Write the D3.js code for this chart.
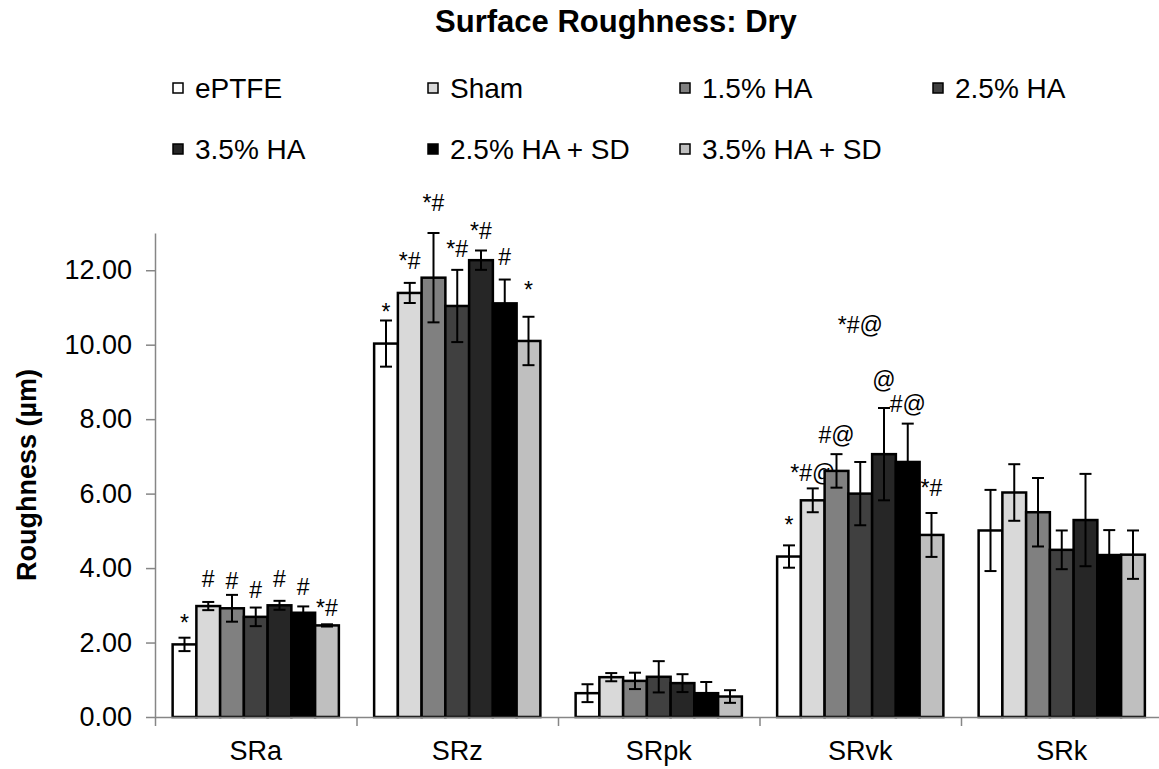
<!DOCTYPE html>
<html>
<head>
<meta charset="utf-8">
<script src="https://cdn.jsdelivr.net/npm/d3@7"></script>
<style>
  body { margin: 0; background: #fff; }
  text { font-family: "Liberation Sans", Arial, sans-serif; }
</style>
</head>
<body>
<svg id="chart"></svg>
<script>
// Categories and series
const categories = ["SRa", "SRz", "SRpk", "SRvk", "SRk"]
const series = ["ePTFE", "Sham", "1.5% HA", "2.5% HA", "3.5% HA", "2.5% HA + SD", "3.5% HA + SD"]
const colors = ["#ffffff", "#d9d9d9", "#808080", "#404040", "#262626", "#000000", "#bfbfbf"]

// Mean values, one row per series (order of categories)
const means = [
  [1.95, 10.03, 0.64, 4.31, 5.01],
  [2.98, 11.39, 1.07, 5.82, 6.03],
  [2.92, 11.80, 0.97, 6.61, 5.50],
  [2.69, 11.04, 1.08, 6.00, 4.49],
  [3.00, 12.27, 0.91, 7.06, 5.29],
  [2.80, 11.11, 0.64, 6.85, 4.35],
  [2.46, 10.10, 0.55, 4.89, 4.36]
]

// Standard deviations
const errors = [
  [0.18, 0.62, 0.24, 0.30, 1.09],
  [0.11, 0.27, 0.11, 0.32, 0.76],
  [0.36, 1.20, 0.22, 0.45, 0.92],
  [0.25, 0.97, 0.42, 0.85, 0.52],
  [0.12, 0.26, 0.24, 1.24, 1.24],
  [0.17, 0.64, 0.30, 1.03, 0.67],
  [0.03, 0.65, 0.17, 0.59, 0.65]
]

// Significance marks and the value at which each one sits
const marks = [
  ["*", "*", "", "*", ""],
  ["#", "*#", "", "*#@", ""],
  ["#", "*#", "", "#@", ""],
  ["#", "*#", "", "*#@", ""],
  ["#", "*#", "", "@", ""],
  ["#", "#", "", "#@", ""],
  ["*#", "*", "", "*#", ""]
]
const markValues = [
  [2.53, 10.87, 0, 5.15, 0],
  [3.71, 12.24, 0, 6.55, 0],
  [3.66, 13.81, 0, 7.58, 0],
  [3.41, 12.56, 0, 10.54, 0],
  [3.72, 13.05, 0, 9.06, 0],
  [3.50, 12.36, 0, 8.42, 0],
  [2.94, 11.48, 0, 6.16, 0]
]

const yTicks = [0, 2, 4, 6, 8, 10, 12]

const width = 1159
const height = 769
const plotLeft = 155
const plotRight = 1162.5
const plotTop = 233
const plotBottom = 717

const svg = d3.select("#chart")
  .attr("width", width)
  .attr("height", height)

// Build a flat table from the arrays
const data = []
categories.forEach((c, ci) => {
  series.forEach((s, si) => {
    data.push({
      category: c,
      series: s,
      color: colors[si],
      value: means[si][ci],
      err: errors[si][ci],
      mark: marks[si][ci],
      markValue: markValues[si][ci]
    })
  })
})

// Scales
const x0 = d3.scaleBand()
  .domain(categories)
  .range([plotLeft, plotRight])
  .paddingInner(0.175)
  .paddingOuter(0.0875)

const x1 = d3.scaleBand()
  .domain(series)
  .range([0, x0.bandwidth()])

const y = d3.scaleLinear()
  .domain([0, 13])
  .range([plotBottom, plotTop])

// Y axis
svg.append("g")
  .attr("transform", `translate(${plotLeft}, 0)`)
  .call(d3.axisLeft(y)
    .tickValues(yTicks)
    .tickFormat(d3.format(".2f"))
    .tickSizeOuter(0)
    .tickSizeInner(9)
    .tickPadding(14))
  .call(g => g.select(".domain").attr("stroke", "#868686").attr("stroke-width", 1.5))
  .call(g => g.selectAll(".tick line").attr("stroke", "#868686").attr("stroke-width", 1.5))
  .call(g => g.selectAll(".tick text")
    .attr("font-family", "Liberation Sans, Arial, sans-serif")
    .attr("font-size", "27px")
    .attr("fill", "#000"))

// Y axis title
svg.append("text")
  .attr("transform", `translate(36, ${(plotTop + plotBottom) / 2}) rotate(-90)`)
  .attr("text-anchor", "middle")
  .attr("font-size", "27px")
  .attr("font-weight", "bold")
  .text("Roughness (µm)")

// Bars
const groups = svg.append("g")
  .selectAll("g")
  .data(categories)
  .join("g")
  .attr("transform", d => `translate(${x0(d)}, 0)`)

const cells = groups.selectAll("g")
  .data(c => data.filter(d => d.category === c))
  .join("g")

cells.append("rect")
  .attr("x", d => x1(d.series))
  .attr("y", d => y(d.value))
  .attr("width", x1.bandwidth())
  .attr("height", d => y(0) - y(d.value))
  .attr("fill", d => d.color)
  .attr("stroke", "#000")
  .attr("stroke-width", 2.5)

// Error bars
const cap = 6
const errG = cells.append("g")
  .attr("stroke", "#000")
  .attr("stroke-width", 2)
errG.append("line")
  .attr("x1", d => x1(d.series) + x1.bandwidth() / 2)
  .attr("x2", d => x1(d.series) + x1.bandwidth() / 2)
  .attr("y1", d => y(d.value + d.err))
  .attr("y2", d => y(d.value - d.err))
errG.append("line")
  .attr("x1", d => x1(d.series) + x1.bandwidth() / 2 - cap)
  .attr("x2", d => x1(d.series) + x1.bandwidth() / 2 + cap)
  .attr("y1", d => y(d.value + d.err))
  .attr("y2", d => y(d.value + d.err))
errG.append("line")
  .attr("x1", d => x1(d.series) + x1.bandwidth() / 2 - cap)
  .attr("x2", d => x1(d.series) + x1.bandwidth() / 2 + cap)
  .attr("y1", d => y(d.value - d.err))
  .attr("y2", d => y(d.value - d.err))

// Significance marks
cells.filter(d => d.mark)
  .append("text")
  .attr("x", d => x1(d.series) + x1.bandwidth() / 2)
  .attr("y", d => y(d.markValue))
  .attr("dy", "0.35em")
  .attr("text-anchor", "middle")
  .attr("font-size", "23px")
  .text(d => d.mark)

// X axis: line and tick marks between categories
const xb = d3.scaleLinear()
  .domain([0, categories.length])
  .range([plotLeft, plotRight])

svg.append("g")
  .attr("transform", `translate(0, ${plotBottom})`)
  .call(d3.axisBottom(xb)
    .tickValues(d3.range(0, categories.length + 1))
    .tickFormat("")
    .tickSizeOuter(0)
    .tickSizeInner(9))
  .call(g => g.select(".domain").attr("stroke", "#868686").attr("stroke-width", 1.5))
  .call(g => g.selectAll(".tick line").attr("stroke", "#868686").attr("stroke-width", 1.5))

// X axis labels
svg.append("g")
  .attr("transform", `translate(0, ${plotBottom})`)
  .call(d3.axisBottom(x0).tickSize(0).tickPadding(24))
  .call(g => g.select(".domain").remove())
  .call(g => g.selectAll(".tick text")
    .attr("font-family", "Liberation Sans, Arial, sans-serif")
    .attr("font-size", "27px")
    .attr("fill", "#000"))

// Title
svg.append("text")
  .attr("x", 616)
  .attr("y", 32)
  .attr("text-anchor", "middle")
  .attr("font-size", "31px")
  .attr("font-weight", "bold")
  .text("Surface Roughness: Dry")

// Legend
const legendCols = [173, 428, 680, 933]
const legendRows = [88, 149]
const legend = svg.append("g")
  .selectAll("g")
  .data(series)
  .join("g")
  .attr("transform", (d, i) => `translate(${legendCols[i % 4]}, ${legendRows[Math.floor(i / 4)]})`)

legend.append("rect")
  .attr("x", 0)
  .attr("y", -5)
  .attr("width", 10)
  .attr("height", 10)
  .attr("fill", (d, i) => colors[i])
  .attr("stroke", "#000")
  .attr("stroke-width", 1.5)

legend.append("text")
  .attr("x", 22)
  .attr("dy", "0.35em")
  .attr("font-size", "28px")
  .text(d => d)
</script>
</body>
</html>
